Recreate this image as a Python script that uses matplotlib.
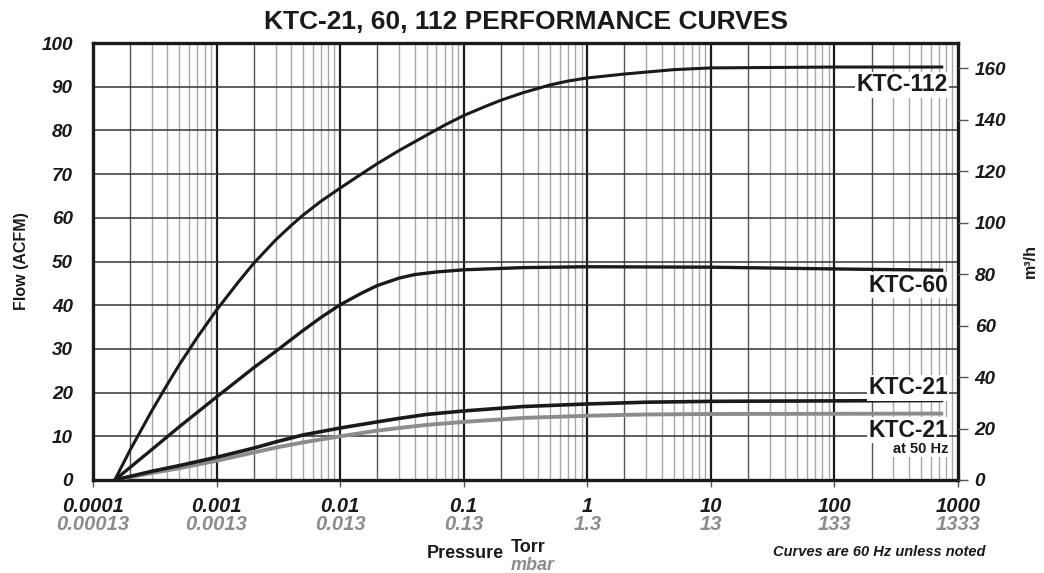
import matplotlib
matplotlib.use('Agg')
import matplotlib.pyplot as plt
from matplotlib import font_manager
from matplotlib.ticker import FixedLocator, NullFormatter
import os


def pick_family(cands):
    # first family that really has a bold italic face
    for fam in cands:
        fp = font_manager.FontProperties(family=fam, style='italic', weight='bold')
        try:
            path = font_manager.findfont(fp, fallback_to_default=False)
        except Exception:
            continue
        name = os.path.basename(path).lower()
        if ('italic' in name or 'oblique' in name or name.endswith('bi.ttf')) \
                and fam.split()[0].lower() in name.replace('-', ' ').replace('_', ' '):
            return fam
    return 'DejaVu Sans'


fam = pick_family(['Liberation Sans', 'Arimo', 'Roboto', 'Open Sans', 'Noto Sans', 'Lato'])
plt.rcParams['font.family'] = [fam, 'DejaVu Sans']
# tick numbers are bold italic everywhere; plain text overrides below
plt.rcParams['font.style'] = 'italic'
plt.rcParams['font.weight'] = 'bold'

# pressure (Torr) vs flow (ACFM)
p_112 = [1.5e-4, 2e-4, 3e-4, 4e-4, 5e-4, 7e-4, 1e-3, 1.5e-3, 2e-3, 3e-3, 4e-3, 5e-3,
         7e-3, 1e-2, 1.5e-2, 2e-2, 3e-2, 5e-2, 7e-2, 0.1, 0.15, 0.2, 0.3, 0.5, 0.7,
         1, 2, 5, 10, 100, 760]
f_112 = [0, 6.9, 15.9, 21.9, 26.4, 32.7, 38.9, 45.3, 49.6, 54.9, 58.2, 60.6,
         63.8, 66.8, 70.1, 72.4, 75.4, 78.9, 81.2, 83.4, 85.5, 86.9, 88.6, 90.4, 91.3,
         92, 92.9, 93.9, 94.3, 94.5, 94.5]

p_60 = [1.5e-4, 2e-4, 3e-4, 5e-4, 7e-4, 1e-3, 2e-3, 3e-3, 5e-3, 7e-3, 1e-2,
        1.5e-2, 2e-2, 3e-2, 4e-2, 6e-2, 0.1, 0.3, 1, 10, 100, 760]
f_60 = [0, 2.9, 7.0, 12.2, 15.5, 19, 25.7, 29.4, 34.2, 37.2, 40.1,
        42.8, 44.5, 46.2, 47.0, 47.6, 48.1, 48.6, 48.8, 48.7, 48.3, 48]

p_21 = [1.5e-4, 3e-4, 5e-4, 1e-3, 2e-3, 3e-3, 5e-3, 1e-2, 2e-2, 3e-2, 5e-2, 0.1,
        0.3, 1, 3, 10, 760]
f_21 = [0, 2, 3.3, 5.2, 7.3, 8.7, 10.3, 11.9, 13.3, 14.1, 15, 15.8,
        16.8, 17.4, 17.8, 18, 18.2]

p_21_50 = [1.5e-4, 3e-4, 5e-4, 1e-3, 2e-3, 3e-3, 5e-3, 1e-2, 2e-2, 3e-2, 5e-2, 0.1,
           0.3, 1, 3, 10, 760]
f_21_50 = [0, 1.6, 2.7, 4.4, 6.3, 7.4, 8.6, 10, 11.3, 11.9, 12.6, 13.3,
           14.2, 14.7, 15, 15.1, 15.2]

torr_ticks = [1e-4, 1e-3, 1e-2, 1e-1, 1, 10, 100, 1000]
torr_labels = ['0.0001', '0.001', '0.01', '0.1', '1', '10', '100', '1000']
mbar_labels = ['0.00013', '0.0013', '0.013', '0.13', '1.3', '13', '133', '1333']
m3h_ticks = [0, 20, 40, 60, 80, 100, 120, 140, 160]
acfm_to_m3h = 1.699

gray = '#8c8c8c'
ink = '#1a1a1a'
plain = dict(fontweight='bold', fontstyle='normal')

fig = plt.figure(figsize=(10.44, 5.73), dpi=100)
ax = fig.add_axes([93 / 1044, 93 / 573, 865 / 1044, 437 / 573])

ax.set_xscale('log')
ax.set_xlim(1e-4, 1000)
ax.set_ylim(0, 100)

# grid: decades black, "2" lines dark, rest light gray
for d in range(-4, 3):
    for m in range(2, 10):
        x = m * 10.0 ** d
        if m == 2:
            ax.axvline(x, color='#555555', lw=1.0, zorder=1)
        else:
            ax.axvline(x, color='#a8a8a8', lw=1.0, zorder=1)
for x in torr_ticks[1:-1]:
    ax.axvline(x, color=ink, lw=1.6, zorder=1.5)
for y in range(10, 100, 10):
    ax.axhline(y, color='#333333', lw=1.1, zorder=1.5)

ax.plot(p_21_50, f_21_50, color=gray, lw=2.8, zorder=3, solid_capstyle='butt')
ax.plot(p_21, f_21, color=ink, lw=2.6, zorder=4, solid_capstyle='butt')
ax.plot(p_60, f_60, color=ink, lw=2.4, zorder=4, solid_capstyle='butt')
ax.plot(p_112, f_112, color=ink, lw=2.2, zorder=4, solid_capstyle='butt')

for s in ax.spines.values():
    s.set_linewidth(2.4)
    s.set_color(ink)

ax.xaxis.set_major_locator(FixedLocator(torr_ticks))
ax.xaxis.set_minor_locator(FixedLocator([]))
ax.xaxis.set_minor_formatter(NullFormatter())
ax.set_xticklabels(torr_labels)
ax.tick_params(axis='x', length=5, width=1, color='#555555', pad=7,
               labelsize=14.5, labelcolor=ink)

xt = ax.get_xaxis_transform()
for x, lab in zip(torr_ticks, mbar_labels):
    ax.text(x, -0.1007, lab, transform=xt, ha='center', va='center',
            fontsize=14.5, color=gray)

ax.set_yticks(range(0, 101, 10))
ax.tick_params(axis='y', length=0, pad=14.4, labelsize=13.6, labelcolor=ink)

ax2 = ax.twinx()
ax2.set_ylim(0, 100 * acfm_to_m3h)
ax2.set_yticks(m3h_ticks)
ax2.tick_params(axis='y', length=7, width=1, color='#555555', pad=5,
                labelsize=13.6, labelcolor=ink)
for s in ax2.spines.values():
    s.set_visible(False)

ax.set_ylabel('Flow (ACFM)', fontsize=11.5, labelpad=9, color=ink, **plain)
ax2.set_ylabel('m³/h', fontsize=11.5, labelpad=12, color=ink, **plain)

ax.set_title('KTC-21, 60, 112 PERFORMANCE CURVES', fontsize=19, pad=10, color=ink, **plain)

box = dict(facecolor='white', edgecolor='none', pad=1.0)
lab_x = 10 ** (6.92 - 4)
for yv, txt in [(90.4, 'KTC-112'), (44.6, 'KTC-60'), (21.1, 'KTC-21'), (11.4, 'KTC-21')]:
    ax.text(lab_x, yv, txt, ha='right', va='center', fontsize=16.5,
            color=ink, bbox=box, zorder=6, **plain)
ax.text(lab_x, 7.2, 'at 50 Hz', ha='right', va='center', fontsize=10.5,
        color=ink, bbox=dict(facecolor='white', edgecolor='none', pad=1.0),
        zorder=7, **plain)

fig.text(465 / 1044, 1 - 553 / 573, 'Pressure', ha='center', va='center',
         fontsize=13, color=ink, **plain)
fig.text(511 / 1044, 1 - 547 / 573, 'Torr', ha='left', va='center',
         fontsize=13, color=ink, **plain)
fig.text(511 / 1044, 1 - 565 / 573, 'mbar', ha='left', va='center',
         fontsize=13, color=gray)
fig.text(985 / 1044, 1 - 552 / 573, 'Curves are 60 Hz unless noted', ha='right',
         va='center', fontsize=10.5, color=ink)

fig.savefig('out.png', dpi=100)
